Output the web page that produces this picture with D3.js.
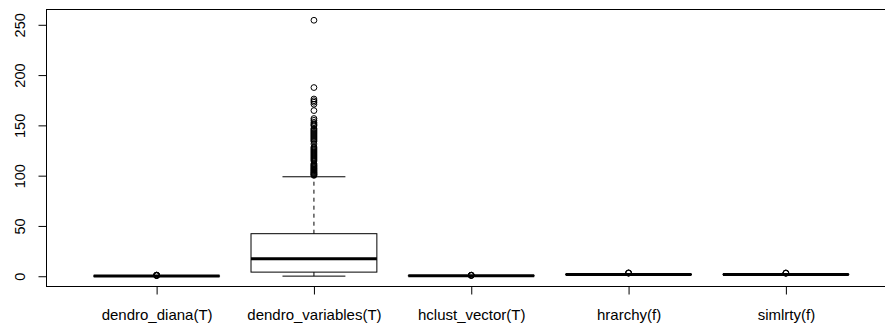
<!DOCTYPE html>
<meta charset="utf-8">
<style>

body {
  margin: 0;
  background: #fff;
}

text {
  font-family: "Liberation Sans", Arial, sans-serif;
  fill: #000;
}

</style>
<svg id="chart" width="885" height="327"></svg>
<script src="https://d3js.org/d3.v7.min.js"></script>
<script>

// Box statistics, one entry per category.
var categories = ["dendro_diana(T)", "dendro_variables(T)", "hclust_vector(T)", "hrarchy(f)", "simlrty(f)"];
var lowWhisker = [0, 0.1, 0.3, 1.6, 1.6];
var q1 = [0.1, 4.1, 0.4, 1.7, 1.7];
var median = [0.2, 17.4, 0.5, 1.8, 1.8];
var q3 = [0.3, 42.3, 0.6, 1.9, 1.9];
var highWhisker = [0.4, 98.9, 0.7, 2.0, 2.0];

var outliers = [
  [0.6, 0.8, 0.9, 1.0, 1.2],
  [100.3, 100.8, 101.4, 102, 102.7, 103.3, 104, 104.8, 105.5, 106.3, 107, 107.8, 108.6,
   109.4, 110.2, 111, 112, 114.5, 115.5, 116.5, 117.5, 118.5, 119.5, 120.5, 121.5, 122.5,
   123.5, 124.5, 125.5, 126.5, 127.5, 128.5, 131.5, 134, 135, 136, 137, 138, 139, 140,
   141, 142, 143, 144, 145, 146, 147, 149.5, 150.5, 151.5, 153, 155, 156.8,
   164.7, 171, 173, 174.5, 176.2, 187.6, 254.5],
  [0.7, 0.9, 1.0, 1.1],
  [3.0, 3.2, 3.4],
  [2.9, 3.1, 3.3]
];

var yTicks = [0, 50, 100, 150, 200, 250];

var svg = d3.select("svg");

// R-style user coordinates: x from 0.3 to 5.7, plot runs past the right edge
var x = d3.scaleLinear()
    .domain([0.3, 5.7])
    .range([46.5, 896]);

var y = d3.scaleLinear()
    .domain([-10.2, 265.2])
    .range([286.5, 9.5]);

var boxes = categories.map(function(c, i) {
  return {
    name: c,
    pos: i + 1,
    lo: lowWhisker[i],
    q1: q1[i],
    med: median[i],
    q3: q3[i],
    hi: highWhisker[i],
    out: outliers[i]
  };
});

var g = svg.append("g");

var box = g.selectAll(".box")
  .data(boxes)
  .enter().append("g")
    .attr("class", "box");

// dashed whiskers
box.append("line")
    .attr("x1", function(d) { return x(d.pos); })
    .attr("x2", function(d) { return x(d.pos); })
    .attr("y1", function(d) { return y(d.q3); })
    .attr("y2", function(d) { return y(d.hi); })
    .attr("stroke", "#000")
    .attr("stroke-dasharray", "4,4");

box.append("line")
    .attr("x1", function(d) { return x(d.pos); })
    .attr("x2", function(d) { return x(d.pos); })
    .attr("y1", function(d) { return y(d.q1); })
    .attr("y2", function(d) { return y(d.lo); })
    .attr("stroke", "#000")
    .attr("stroke-dasharray", "4,4");

// staples
["lo", "hi"].forEach(function(k) {
  box.append("line")
      .attr("x1", function(d) { return x(d.pos - 0.2); })
      .attr("x2", function(d) { return x(d.pos + 0.2); })
      .attr("y1", function(d) { return y(d[k]); })
      .attr("y2", function(d) { return y(d[k]); })
      .attr("stroke", "#000");
});

box.append("rect")
    .attr("x", function(d) { return x(d.pos - 0.4); })
    .attr("width", function(d) { return x(d.pos + 0.4) - x(d.pos - 0.4); })
    .attr("y", function(d) { return y(d.q3); })
    .attr("height", function(d) { return y(d.q1) - y(d.q3); })
    .attr("fill", "none")
    .attr("stroke", "#000");

box.append("line")
    .attr("x1", function(d) { return x(d.pos - 0.4); })
    .attr("x2", function(d) { return x(d.pos + 0.4); })
    .attr("y1", function(d) { return y(d.med); })
    .attr("y2", function(d) { return y(d.med); })
    .attr("stroke", "#000")
    .attr("stroke-width", 3);

box.selectAll(".out")
  .data(function(d) { return d.out.map(function(v) { return {pos: d.pos, v: v}; }); })
  .enter().append("circle")
    .attr("class", "out")
    .attr("cx", function(d) { return x(d.pos); })
    .attr("cy", function(d) { return y(d.v); })
    .attr("r", 2.9)
    .attr("fill", "none")
    .attr("stroke", "#000");

// frame
svg.append("rect")
    .attr("x", 46.5)
    .attr("y", 9.5)
    .attr("width", 900)
    .attr("height", 277)
    .attr("fill", "none")
    .attr("stroke", "#000");

// y axis
var yAxis = svg.append("g")
    .attr("transform", "translate(46.5,0)")
    .call(d3.axisLeft(y).tickValues(yTicks).tickSize(8).tickPadding(0).tickSizeOuter(0));
yAxis.select(".domain").remove();
yAxis.selectAll(".tick line").attr("stroke", "#000");
yAxis.selectAll(".tick text")
    .attr("x", null)
    .attr("dy", null)
    .attr("text-anchor", "middle")
    .attr("transform", "translate(-21.5,0) rotate(-90)")
    .style("font-size", "14.5px");

// x axis
var xAxis = svg.append("g")
    .attr("transform", "translate(0,286.5)")
    .call(d3.axisBottom(x).tickValues([1, 2, 3, 4, 5])
        .tickFormat(function(d) { return categories[d - 1]; })
        .tickSize(8).tickPadding(0).tickSizeOuter(0));
xAxis.select(".domain").remove();
xAxis.selectAll(".tick line").attr("stroke", "#000");
xAxis.selectAll(".tick text")
    .attr("y", 33.5)
    .attr("dy", null)
    .style("font-size", "15px");

</script>
